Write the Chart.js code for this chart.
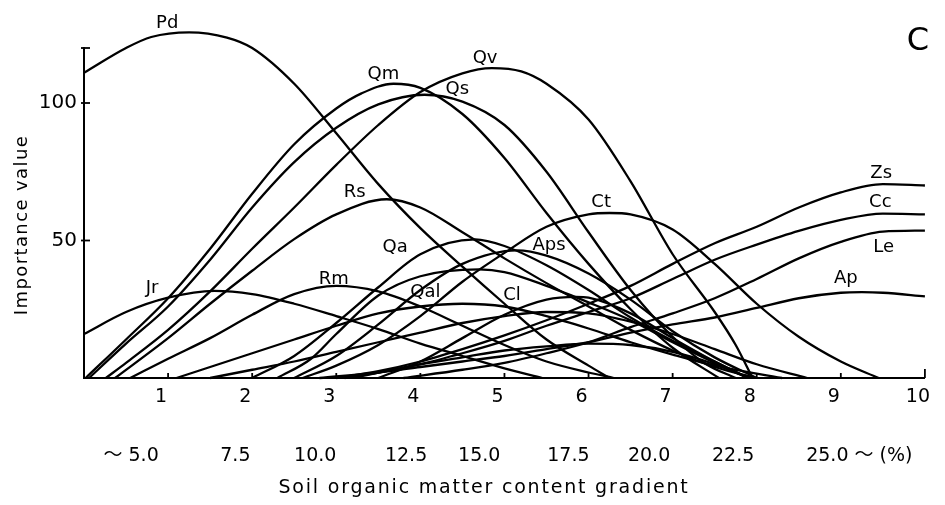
<!DOCTYPE html>
<html>
<head>
<meta charset="utf-8">
<title>Importance value along soil organic matter gradient</title>
<script src="https://cdn.jsdelivr.net/npm/chart.js"></script>
<style>
  body { margin: 0; background: #fff; }
  #wrap { width: 945px; height: 505px; }
</style>
</head>
<body>
<div id="wrap"><canvas id="gradientChart" width="945" height="505"></canvas></div>
<script>
// gradient steps (x) and tick labels
const gradientTicks = [1, 2, 3, 4, 5, 6, 7, 8, 9, 10];
const importanceTicks = [50, 100];
const percentLabels = ['〜 5.0', '7.5', '10.0', '12.5', '15.0', '17.5', '20.0', '22.5', '25.0 〜 (%)'];

// importance value curves, [gradient, value]
const Pd  = [[0, 111], [0.5, 120], [0.8, 124], [1.25, 125.7], [1.7, 123.8], [2.0, 120], [2.5, 107], [3.0, 89], [3.5, 70.5], [4.0, 54.5], [4.5, 40.5], [5.0, 27], [5.5, 14], [6.0, 4.5], [6.25, 0]];
const Qm  = [[0.02, 0], [0.5, 14], [1.0, 29], [1.5, 47], [2.0, 67], [2.5, 85], [3.0, 98], [3.3, 103.5], [3.68, 107], [4.0, 105.5], [4.5, 96], [5.0, 80], [5.5, 60], [6.0, 41.5], [6.5, 25], [7.0, 11], [7.55, 0]];
const Qs  = [[0.06, 0], [0.5, 12.5], [1.0, 26], [1.5, 43], [2.0, 62], [2.5, 78.5], [3.0, 91], [3.5, 99.5], [4.05, 103], [4.5, 100.5], [5.0, 92], [5.5, 75], [6.0, 53], [6.5, 32], [7.0, 15], [7.4, 5], [7.75, 0]];
const Qv  = [[0.26, 0], [0.5, 5.5], [1.0, 17.5], [1.5, 31.5], [2.0, 47], [2.5, 62], [3.0, 77.5], [3.5, 92], [4.0, 104], [4.5, 110.8], [4.85, 112.7], [5.2, 111.5], [5.5, 107], [6.0, 94], [6.5, 71.5], [7.0, 45], [7.5, 24], [7.75, 12], [7.95, 0]];
const Rs  = [[0.37, 0], [1.0, 14.5], [1.5, 27], [2.0, 39], [2.5, 50.5], [3.0, 59.5], [3.6, 65], [4.0, 62], [4.5, 53], [5.0, 43.5], [5.5, 34.5], [6.0, 26], [6.5, 17.5], [7.0, 10], [7.5, 4], [8.0, 0]];
const Jr  = [[0, 16], [0.5, 24], [1.0, 29.2], [1.55, 31.7], [2.0, 30.5], [2.5, 27], [3.0, 22.5], [3.5, 17.8], [4.0, 12.5], [4.5, 8], [5.0, 3.5], [5.45, 0]];
const Rm  = [[0.55, 0], [1.0, 7], [1.5, 14.5], [2.0, 23], [2.5, 30.5], [3.0, 33.5], [3.5, 31.5], [4.0, 26], [4.5, 19], [5.0, 12], [5.5, 6], [6.0, 2], [6.3, 0]];
const Qa  = [[2.0, 0], [2.5, 8], [3.0, 20], [3.5, 33], [4.0, 45], [4.65, 50.4], [5.0, 48], [5.5, 41], [6.0, 32], [6.5, 22], [7.0, 13.5], [7.5, 6], [7.9, 0]];
const Qal = [[2.3, 0], [2.7, 7], [3.0, 16], [3.5, 30], [4.0, 37], [4.7, 39.5], [5.0, 38.5], [5.5, 33.5], [6.0, 27.5], [6.5, 21], [7.0, 13], [7.5, 5.5], [7.9, 0]];
const Aps = [[2.5, 0], [3.0, 8], [3.5, 19.5], [4.0, 32], [4.5, 41.5], [5.15, 46.4], [5.5, 44.5], [6.0, 38], [6.5, 28.5], [7.0, 17], [7.5, 7.5], [8.0, 0]];
const Cl  = [[3.5, 0], [4.0, 6], [4.5, 14.5], [5.0, 23], [5.5, 28.5], [5.85, 29.5], [6.0, 29.2], [6.5, 23.5], [7.0, 14.5], [7.5, 6], [7.9, 0]];
const Ct  = [[2.6, 0], [3.0, 4.5], [3.5, 12], [4.0, 22.5], [4.5, 35], [5.0, 45.5], [5.5, 55], [6.0, 59.5], [6.25, 60], [6.5, 59.5], [7.0, 54], [7.5, 41.5], [8.0, 27], [8.5, 15], [9.0, 6], [9.45, 0]];
const Zs  = [[3.0, 0], [3.5, 2.5], [4.0, 6], [4.5, 10.5], [5.0, 15.5], [5.5, 21], [6.0, 27], [6.5, 33.5], [7.0, 41.5], [7.5, 49], [8.0, 55], [8.5, 62], [9.0, 67.5], [9.5, 70.5], [10, 70]];
const Cc  = [[3.2, 0], [3.5, 2], [4.0, 5], [4.5, 9], [5.0, 13.5], [5.5, 19], [6.0, 24], [6.5, 29], [7.0, 36], [7.5, 43], [8.0, 48.5], [8.5, 53.5], [9.0, 57.5], [9.5, 59.8], [10, 59.5]];
const Le  = [[3.8, 0], [4.5, 3], [5.0, 5.5], [5.5, 9], [6.0, 13], [6.5, 18.5], [7.0, 23.5], [7.5, 29], [8.0, 36], [8.5, 43.5], [9.0, 49.5], [9.5, 53.2], [10, 53.6]];
const Ap  = [[2.8, 0], [3.5, 2], [4.0, 4], [4.5, 6], [5.0, 8], [5.5, 10.5], [6.0, 13], [6.5, 16.5], [7.0, 19.5], [7.5, 22], [8.0, 25.5], [8.5, 29], [9.0, 31], [9.25, 31.2], [9.5, 31], [10, 29.7]];
// unlabeled curves in the lower tangle
const extra1 = [[1.1, 0], [1.5, 4], [2.0, 9], [2.5, 14], [3.0, 19], [3.5, 23.5], [4.0, 26], [4.5, 27], [5.0, 26], [5.5, 22.5], [6.0, 18], [6.5, 13], [7.0, 8.5], [7.5, 4.5], [8.3, 0]];
const extra2 = [[1.5, 0], [2.0, 3], [2.5, 6], [3.0, 9.5], [3.5, 13], [4.0, 16.5], [4.5, 20], [5.0, 22.5], [5.5, 24], [6.0, 23.5], [6.5, 20.5], [7.0, 16], [7.5, 10.5], [8.0, 5], [8.6, 0]];
const extra3 = [[3.1, 0], [3.5, 2], [4.0, 5], [4.5, 7.5], [5.0, 10], [5.5, 11.5], [6.0, 12.5], [6.5, 12], [7.0, 9.5], [7.5, 5], [7.9, 0]];

const speciesNames = ['Pd', 'Qm', 'Qs', 'Qv', 'Rs', 'Jr', 'Rm', 'Qa', 'Qal', 'Aps', 'Cl', 'Ct', 'Zs', 'Cc', 'Le', 'Ap'];
const speciesCurves = [Pd, Qm, Qs, Qv, Rs, Jr, Rm, Qa, Qal, Aps, Cl, Ct, Zs, Cc, Le, Ap];
const extraCurves = [extra1, extra2, extra3];

// where each species name sits (gradient, value) - layout only
const nameAt = [[0.99, 129], [3.56, 110.5], [4.44, 105], [4.77, 116.3], [3.22, 67.4], [0.81, 32.6], [2.97, 35.9], [3.7, 47.5],
                [4.06, 31.2], [5.53, 48.2], [5.09, 30.1], [6.15, 63.8], [9.48, 74.6], [9.47, 63.8], [9.51, 47.5], [9.06, 36.2]];
// centre of each percent label along the gradient - layout only
const percentAt = [0.56, 1.8, 2.75, 3.83, 4.7, 5.76, 6.72, 7.72, 9.22];

const FONT = '"DejaVu Sans", "Noto Sans CJK JP", sans-serif';

function toDataset(points, label) {
    return {
        label: label,
        data: points.map(p => ({ x: p[0], y: p[1] })),
        borderColor: '#000',
        borderWidth: 2.3,
        pointRadius: 0,
        fill: false,
        cubicInterpolationMode: 'monotone',
        clip: false
    };
}

const datasets = speciesCurves.map((c, i) => toDataset(c, speciesNames[i]))
    .concat(extraCurves.map((c, i) => toDataset(c, 'extra' + (i + 1))));

// inward tick marks, axis titles, curve names and panel letter
const figureMarks = {
    id: 'figureMarks',
    afterDraw(chart) {
        const { ctx } = chart;
        const x = chart.scales.x, y = chart.scales.y;
        ctx.save();
        ctx.strokeStyle = '#000';
        ctx.lineWidth = 1.8;
        gradientTicks.forEach(v => {
            const px = x.getPixelForValue(v);
            ctx.beginPath();
            ctx.moveTo(px, y.bottom);
            ctx.lineTo(px, y.bottom - (v === 10 ? 9 : 5));
            ctx.stroke();
        });
        importanceTicks.concat([y.max]).forEach(v => {
            const py = y.getPixelForValue(v);
            ctx.beginPath();
            ctx.moveTo(x.left - 3, py);
            ctx.lineTo(x.left + 6, py);
            ctx.stroke();
        });

        ctx.fillStyle = '#000';
        ctx.textAlign = 'center';
        ctx.textBaseline = 'middle';

        // axis titles, letter-spaced like the printed figure
        ctx.letterSpacing = '1.8px';
        ctx.font = '19px ' + FONT;
        ctx.fillText('Soil organic matter content gradient', 484, chart.height - 17);
        ctx.save();
        ctx.letterSpacing = '1.4px';
        ctx.font = '18px ' + FONT;
        ctx.translate(22, (y.top + y.bottom) / 2 + 12);
        ctx.rotate(-Math.PI / 2);
        ctx.fillText('Importance value', 0, 0);
        ctx.restore();
        ctx.letterSpacing = '0px';

        ctx.font = '18px ' + FONT;
        speciesNames.forEach((name, i) => {
            ctx.fillText(name, x.getPixelForValue(nameAt[i][0]), y.getPixelForValue(nameAt[i][1]));
        });

        ctx.font = '32px ' + FONT;
        ctx.fillText('C', chart.width - 27, 42);
        ctx.restore();
    }
};

new Chart(document.getElementById('gradientChart'), {
    type: 'line',
    data: { datasets: datasets },
    plugins: [figureMarks],
    options: {
        responsive: false,
        animation: false,
        layout: { padding: { top: 48, right: 8, left: 0, bottom: 0 } },
        plugins: {
            legend: { display: false },
            tooltip: { enabled: false }
        },
        scales: {
            x: {
                type: 'linear',
                position: 'bottom',
                min: 0,
                max: 10,
                afterBuildTicks: s => { s.ticks = gradientTicks.map(v => ({ value: v })); },
                afterFit: s => { s.height = 31; },
                grid: { drawOnChartArea: false, drawTicks: false },
                border: { color: '#000', width: 2 },
                ticks: { color: '#000', padding: 8, labelOffset: -7, font: { size: 19, family: FONT } }
            },
            x2: {
                type: 'linear',
                position: 'bottom',
                min: 0,
                max: 10,
                afterBuildTicks: s => { s.ticks = percentAt.map(v => ({ value: v })); },
                afterFit: s => { s.height = 96; },
                grid: { display: false },
                border: { display: false },
                ticks: {
                    color: '#000',
                    padding: 28,
                    autoSkip: false,
                    maxRotation: 0,
                    font: { size: 19, family: FONT },
                    callback: (v, i) => percentLabels[i]
                }
            },
            y: {
                min: 0,
                max: 120,
                afterBuildTicks: s => { s.ticks = importanceTicks.map(v => ({ value: v })); },
                afterFit: s => { s.width = 84; },
                grid: { drawOnChartArea: false, drawTicks: false },
                border: { color: '#000', width: 2 },
                ticks: { color: '#000', padding: 7, font: { size: 20, family: FONT } }
            }
        }
    }
});
</script>
</body>
</html>
